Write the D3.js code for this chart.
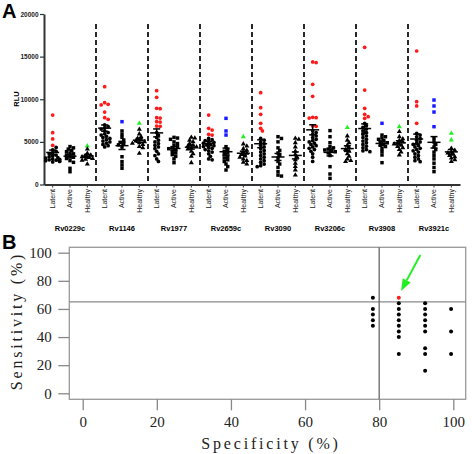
<!DOCTYPE html>
<html><head><meta charset="utf-8">
<script src="https://cdn.jsdelivr.net/npm/d3@7"></script>
<style>body{margin:0;background:#fff}svg{display:block}</style>
</head><body>
<svg id="c" width="472" height="454"></svg>
<script>
// ---------------- Panel A data ----------------
const genes = ["Rv0229c","Rv1146","Rv1977","Rv2659c","Rv3090","Rv3206c","Rv3908","Rv3921c"];
const groups = ["Latent","Active","Healthy"];
const yTicksA = [0,5000,10000,15000,20000];

// highlighted (responder) values per gene, latent group (red)
const latentHigh = [
  [8150,6080,5350,4600],
  [11470,9600,9400,9330,8500,7840,7640],
  [11000,10230,8940,8900,7840,7800,7370,7330,6860,6820],
  [8150,6590,6390,5880,5800],
  [10770,9010,8230,7180,6590,6280],
  [14370,14300,11750,10340,7880,7840,7800,6860,6820],
  [16090,11080,8930,8230,7960,7760],
  [15660,9720,9210,7180]
];
const latentRest = [
  [4350,4050,3900,3700,3600,3450,3350,3250,3150,3100,3000,2950,2900,2850,2800,2750,2700,2650],
  [7000,6800,6650,6500,6300,6100,5950,5800,5650,5500,5400,5250,5100,5000,4850,4700,4550,4400],
  [6100,5800,5500,5200,5000,4800,4600,4400,4200,3900,3600,3400,3000,2700],
  [5400,5250,5150,5050,4950,4850,4750,4650,4550,4450,4350,4250,4100,3950,3800,3600,3300,3000,2900],
  [5410,5200,5000,4800,4600,4400,4200,4000,3800,3600,3400,3200,3000,2800,2600,2400,2200,2090],
  [6300,6100,5900,5700,5500,5300,5150,5000,4850,4700,4550,4400,4250,4100,3900,3600,3200,2700],
  [7180,6900,6700,6500,6300,6100,5900,5700,5500,5300,5100,4900,4700,4500,4300,4100,3950,3850],
  [6000,5800,5600,5400,5200,5000,4850,4700,4550,4400,4250,4100,3950,3800,3600,3400,3200,3000,2800,2680]
];
// active group (blue highlights)
const activeHigh = [
  [],
  [7370],
  [],
  [7760,6280,5800],
  [],
  [],
  [7180],
  [9910,9210,8500,6780]
];
const activeRest = [
  [4450,4300,4150,4000,3850,3700,3600,3450,3300,3200,3050,2800,2600,1900,1500],
  [6280,5880,5530,5220,4950,4800,4650,4400,3260,2680,2290,1900],
  [5530,5450,5300,5000,4800,4600,4450,4300,4200,4050,3900,3700,3500,3300,3000,2560],
  [4440,4100,3900,3700,3500,3300,3100,2900,2700,2400,2100,1700],
  [5610,5400,5000,4300,4000,3700,3400,3100,2700,2400,2000,1500,1100,990],
  [6320,5610,4900,4440,4300,4150,4050,3950,3850,3700,3400,2090,1230,720],
  [5800,5600,5450,5300,5150,5000,4900,4750,4600,4450,4200,3850,3460,2560],
  [5410,5000,4700,4400,4100,3800,3400,3000,2500,2000,1510]
];
// healthy group (green highlights)
const healthyHigh = [
  [4520],
  [7170],
  [],
  [5610],
  [],
  [6670],
  [6780],
  [6000,5220]
];
const healthyRest = [
  [4150,3650,3450,3350,3250,3150,3050,2950,2850,2400],
  [6470,5930,5610,5400,5250,5100,5000,4900,4830,4700,4440,4300,3660],
  [5530,5450,5200,5000,4800,4600,4500,4400,4300,4150,3900,3600,3300,2560],
  [4750,4500,4200,4000,3800,3650,3500,3350,3200,3000,2800,2600,2400],
  [5410,5300,4900,4400,3900,3500,3200,2900,2500,2100,1700,1110],
  [5690,5200,4900,4600,4300,4100,3900,3600,3300,3000,2800,2680],
  [6200,5600,5350,5150,5000,4850,4750,4600,4450,4300,4100,3800,3460],
  [4240,4000,3850,3700,3550,3400,3250,3100,2900,2680]
];

// ---------------- Panel B data ----------------
const rocSpec = [78.3,78.3,78.3,78.3,78.3,
                 85.3,85.3,85.3,85.3,85.3,85.3,85.3,85.3,85.3,
                 92.4,92.4,92.4,92.4,92.4,92.4,92.4,92.4,92.4,
                 99.4,99.4,99.4];
const rocSens = [68,60,56,52,48,
                 68,64,60,56,52,48,44,40,28,
                 64,60,56,52,48,44,32,28,16,
                 60,44,28];
const rocBest = 5;
const ticksB = [0,20,40,60,80,100];
const cutSens = 65, cutSpec = 80;
const arrowFrom = [91.1,98.4], arrowTo = [85.9,72.8];

// ---------------- drawing ----------------
const svg = d3.select("#c");
const sans = "'Liberation Sans', Arial, sans-serif";
const serif = "'Liberation Serif', 'Times New Roman', serif";
const hiColor = {Latent:"#ff1a1a", Active:"#1a1aff", Healthy:"#22ee22"};
const symType = {Latent:d3.symbolCircle, Active:d3.symbolSquare, Healthy:d3.symbolTriangle};
const symSize = {Latent:11, Active:12, Healthy:11};

const cols = [];
genes.forEach((g,gi)=>{
  groups.forEach((grp,k)=>{
    const hi = [latentHigh,activeHigh,healthyHigh][k][gi];
    const rest = [latentRest,activeRest,healthyRest][k][gi];
    cols.push({key:g+"|"+grp, gene:g, group:grp, gi,
      pts: hi.map(v=>({v,hi:true})).concat(rest.map(v=>({v,hi:false})))});
  });
});

const xA = d3.scaleBand().domain(cols.map(c=>c.key)).range([44,460]).padding(0);
const yA = d3.scaleLinear().domain([0,20000]).range([184.5,14]);

svg.append("text").attr("x",2).attr("y",18).text("A")
  .style("font-family",sans).style("font-weight","bold").style("font-size","20px");

// dashed group separators
for (let g=1; g<genes.length; g++){
  const xx = xA(cols[g*3].key);
  svg.append("line").attr("x1",xx).attr("x2",xx).attr("y1",24).attr("y2",184)
    .attr("stroke","#111").attr("stroke-width",1.8).attr("stroke-dasharray","5,3");
}

// y axis
const gy = svg.append("g").attr("transform","translate(44,0)")
  .call(d3.axisLeft(yA).tickValues(yTicksA).tickSize(4).tickSizeOuter(0).tickPadding(1.5).tickFormat(d3.format("d")));
gy.select(".domain").attr("stroke","#333").attr("stroke-width",2);
gy.selectAll(".tick line").attr("stroke","#333").attr("stroke-width",1.2);
gy.selectAll("text").style("font-family",sans).style("font-weight","bold").style("font-size","6.5px").attr("fill","#222");

svg.append("text").attr("transform","translate(19,99) rotate(-90)").attr("text-anchor","middle")
  .text("RLU").style("font-family",sans).style("font-weight","bold").style("font-size","7.5px");

// x axis
const gx = svg.append("g").attr("transform","translate(0,184.5)")
  .call(d3.axisBottom(xA).tickSize(3).tickSizeOuter(0).tickFormat(d=>d.split("|")[1]));
gx.select(".domain").attr("stroke","#333").attr("stroke-width",2);
gx.selectAll(".tick line").attr("stroke","#333");
gx.selectAll("text").attr("transform","rotate(-90)").attr("x",-4.5).attr("y",0).attr("dy","0.35em")
  .style("text-anchor","end").style("font-family",sans).style("font-size","7px").attr("fill","#222");

// gene labels
genes.forEach((g,gi)=>{
  const c = cols[gi*3+1];
  svg.append("text").attr("x",xA(c.key)+xA.bandwidth()/2).attr("y",231).attr("text-anchor","middle")
    .text(g).style("font-family",sans).style("font-weight","bold").style("font-size","7.5px");
});

// dodge layout
function dodge(pts, d){
  const placed = [];
  const sorted = pts.map(p=>({...p, py:yA(p.v)})).sort((a,b)=>a.py-b.py);
  for (const p of sorted){
    let off = 0;
    for (let s=0; s<40; s++){
      off = s===0 ? 0 : (s%2 ? 1 : -1)*Math.ceil(s/2)*d*0.6;
      if (!placed.some(q=>Math.hypot(q.off-off, q.py-p.py) < d)) break;
    }
    off = Math.max(-7, Math.min(7, off));
    p.off = off; placed.push(p);
  }
  return sorted;
}

cols.forEach(c=>{
  const cx = xA(c.key)+xA.bandwidth()/2;
  const laid = dodge(c.pts, 2.9);
  const sym = d3.symbol().type(symType[c.group]).size(symSize[c.group]);
  svg.append("g").selectAll("path").data(laid).join("path")
    .attr("d",sym)
    .attr("transform",p=>`translate(${cx+p.off},${p.py})`)
    .attr("fill",p=>p.hi?hiColor[c.group]:"#000");
  const vals = c.pts.map(p=>p.v);
  const m = d3.mean(vals), sem = d3.deviation(vals)/Math.sqrt(vals.length);
  const g = svg.append("g").attr("stroke","#000").attr("stroke-width",1.5);
  g.append("line").attr("x1",cx-6.5).attr("x2",cx+6.5).attr("y1",yA(m)).attr("y2",yA(m));
  g.append("line").attr("x1",cx).attr("x2",cx).attr("y1",yA(m-sem)).attr("y2",yA(m+sem));
  [m-sem,m+sem].forEach(v=>g.append("line").attr("x1",cx-3.5).attr("x2",cx+3.5).attr("y1",yA(v)).attr("y2",yA(v)));
});

// ---------------- Panel B ----------------
svg.append("text").attr("x",2).attr("y",249).text("B")
  .style("font-family",sans).style("font-weight","bold").style("font-size","20px");

const xB = d3.scaleLinear().domain([0,100]).range([82.7,453.3]);
const yB = d3.scaleLinear().domain([0,100]).range([393.3,252.7]);
const boxL = 69.3, boxR = 465.7, boxT = 247.3, boxB = 399.3;

svg.append("rect").attr("x",boxL).attr("y",boxT).attr("width",boxR-boxL).attr("height",boxB-boxT)
  .attr("fill","none").attr("stroke","#999").attr("stroke-width",1.3);

svg.append("line").attr("x1",boxL).attr("x2",boxR).attr("y1",yB(cutSens)).attr("y2",yB(cutSens))
  .attr("stroke","#8a8a8a").attr("stroke-width",1.3);
svg.append("line").attr("x1",xB(cutSpec)).attr("x2",xB(cutSpec)).attr("y1",boxT).attr("y2",boxB)
  .attr("stroke","#666").attr("stroke-width",1.3);

const gyB = svg.append("g").attr("transform",`translate(${boxL},0)`)
  .call(d3.axisLeft(yB).tickValues(ticksB).tickSize(11).tickSizeOuter(0).tickPadding(6.5));
gyB.select(".domain").remove();
gyB.selectAll(".tick line").attr("stroke","#888").attr("stroke-width",1.3);
gyB.selectAll("text").style("font-family",serif).style("font-size","15px").attr("fill","#222");

const gxB = svg.append("g").attr("transform",`translate(0,${boxB})`)
  .call(d3.axisBottom(xB).tickValues(ticksB).tickSize(11).tickSizeOuter(0).tickPadding(6));
gxB.select(".domain").remove();
gxB.selectAll(".tick line").attr("stroke","#888").attr("stroke-width",1.3);
gxB.selectAll("text").style("font-family",serif).style("font-size","15px").attr("fill","#222");

svg.append("text").attr("transform","translate(22,321) rotate(-90)").attr("text-anchor","middle")
  .text("Sensitivity (%)").style("font-family",serif).style("font-size","16px")
  .style("letter-spacing","2.8px").attr("fill","#222");
svg.append("text").attr("x",271).attr("y",449).attr("text-anchor","middle")
  .text("Specificity (%)").style("font-family",serif).style("font-size","16px")
  .style("letter-spacing","2.8px").attr("fill","#222");

svg.append("g").selectAll("circle").data(rocSpec).join("circle")
  .attr("cx",(d)=>xB(d)).attr("cy",(d,i)=>yB(rocSens[i])).attr("r",2)
  .attr("fill",(d,i)=>i===rocBest?"#ff1a1a":"#000");

// green arrow
const ax0 = xB(arrowFrom[0]), ay0 = yB(arrowFrom[1]), ax1 = xB(arrowTo[0]), ay1 = yB(arrowTo[1]);
const ang = Math.atan2(ay1-ay0, ax1-ax0), L = 12, W = 4.5;
const bx = ax1 - L*Math.cos(ang), by = ay1 - L*Math.sin(ang);
svg.append("line").attr("x1",ax0).attr("y1",ay0).attr("x2",bx).attr("y2",by)
  .attr("stroke","#22ee22").attr("stroke-width",2);
svg.append("path").attr("d",`M${ax1},${ay1}L${bx+W*Math.sin(ang)},${by-W*Math.cos(ang)}L${bx-W*Math.sin(ang)},${by+W*Math.cos(ang)}Z`)
  .attr("fill","#22ee22");
</script>
</body></html>
